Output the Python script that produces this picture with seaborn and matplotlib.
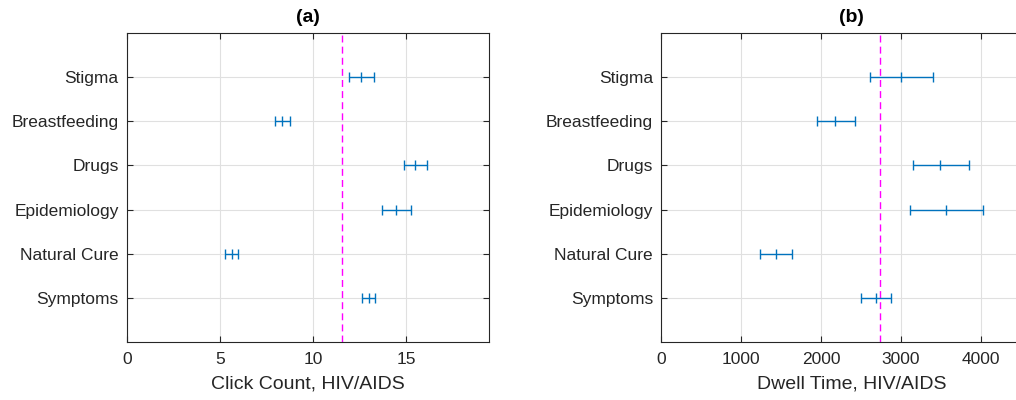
import matplotlib
matplotlib.use("Agg")
import matplotlib.pyplot as plt
import seaborn as sns
import pandas as pd
import numpy as np

categories = ["Symptoms", "Natural Cure", "Epidemiology", "Drugs", "Breastfeeding", "Stigma"]

click_mean = [12.99, 5.65, 14.48, 15.48, 8.33, 12.6]
click_low = [12.65, 5.27, 13.69, 14.89, 7.94, 11.95]
click_high = [13.33, 5.99, 15.27, 16.11, 8.76, 13.28]
click_ref = 11.58

dwell_mean = [2686, 1437, 3571, 3492, 2180, 3000]
dwell_low = [2498, 1233, 3120, 3150, 1951, 2611]
dwell_high = [2879, 1642, 4023, 3852, 2419, 3396]
dwell_ref = 2732

sns.set_theme(style="whitegrid")
plt.rcParams['font.family'] = ['Liberation Sans', 'DejaVu Sans']

text_color = "#262626"
blue = "#0072BD"
magenta = "#FF00FF"

fig = plt.figure(figsize=(10.16, 4.0), dpi=100)
ax1 = fig.add_axes([0.125, 0.145, 0.3563, 0.7725])
ax2 = fig.add_axes([0.651, 0.145, 0.374, 0.7725])

panels = [
    (ax1, click_mean, click_low, click_high, click_ref, "Click Count, HIV/AIDS", "(a)", 19.46, [0, 5, 10, 15]),
    (ax2, dwell_mean, dwell_low, dwell_high, dwell_ref, "Dwell Time, HIV/AIDS", "(b)", 4760, [0, 1000, 2000, 3000, 4000]),
]

for ax, mean, low, high, ref, xlabel, title, xmax, xticks in panels:
    df = pd.DataFrame({"cat": categories, "pos": np.arange(1, len(categories) + 1),
                       "mean": mean, "low": low, "high": high})
    xerr = np.vstack([df["mean"] - df["low"], df["high"] - df["mean"]])
    ax.errorbar(df["mean"], df["pos"], xerr=xerr, fmt="none", ecolor=blue,
                elinewidth=1.0, capsize=3.5, capthick=1.0, zorder=3)
    sns.scatterplot(data=df, x="mean", y="pos", marker="|", s=60, color=blue,
                    linewidth=1.0, ax=ax, zorder=4, legend=False)
    ax.axvline(ref, color=magenta, linestyle=(0, (5, 3)), linewidth=1.0, zorder=2)
    ax.set_xlim(0, xmax)
    ax.set_ylim(0, 7)
    ax.set_xticks(xticks)
    ax.set_yticks(df["pos"])
    ax.set_yticklabels(categories)
    ax.set_xlabel(xlabel, fontsize=14, color=text_color, labelpad=6)
    ax.set_ylabel("")
    ax.set_title(title, fontsize=14, fontweight="bold", color="black", pad=8)
    ax.grid(True, color="#e0e0e0", linewidth=0.8)
    ax.set_axisbelow(True)
    ax.set_facecolor("white")
    for s in ax.spines.values():
        s.set_visible(True)
        s.set_color("#262626")
        s.set_linewidth(0.8)
    ax.tick_params(axis="both", which="both", direction="in", length=4, width=0.8,
                   colors="#262626", labelcolor=text_color, labelsize=12.5,
                   top=True, right=True, bottom=True, left=True, pad=7)
    ax.tick_params(axis="y", pad=6)

fig.savefig("out.png", dpi=100, facecolor="white")
